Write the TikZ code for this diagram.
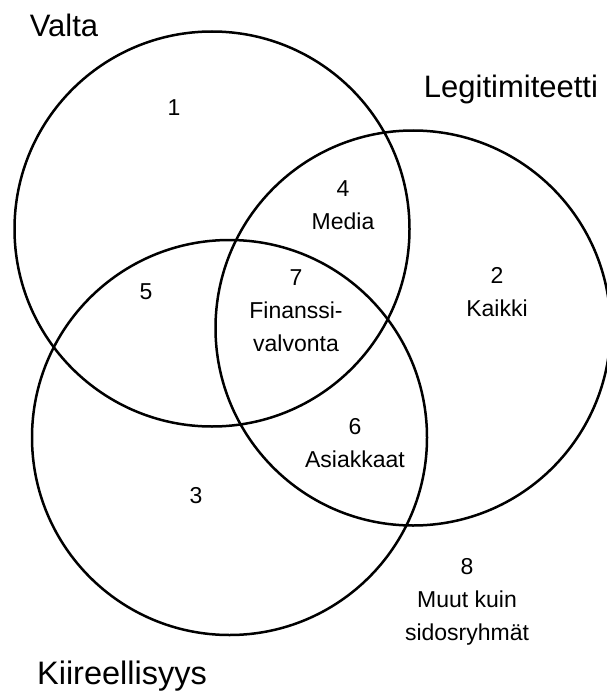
\documentclass[tikz,border=0pt]{standalone}
\usepackage{fontspec}
\setmainfont{Liberation Sans}
\begin{document}
\begin{tikzpicture}[x=1pt,y=-1pt,
  ring/.style={draw=black,line width=2.5pt,circle,minimum size=395pt,inner sep=0pt},
  big/.style={font=\fontsize{31}{36}\selectfont,inner sep=0pt},
  small/.style={font=\fontsize{23}{33}\selectfont,align=center,inner sep=0pt}]
\useasboundingbox (0,0) rectangle (606,698);
\node[ring] (valta) at (212,229) {};
\node[ring] (legit) at (413,328) {};
\node[ring] (kiire) at (229.5,437.5) {};
\node[big] (tvalta) at (64,25) {Valta};
\node[big] (tlegit) at (511,89) {Legitimiteetti};
\node[big,font=\fontsize{32.5}{36}\selectfont] (tkiire) at (122,676) {Kiireellisyys};
\node[small] (r1) at (174,108) {1};
\node[small] (r4) at (343,205) {4\\Media};
\node[small] (r7) at (296,310.5) {7\\Finanssi-\\valvonta};
\node[small] (r5) at (146,292) {5};
\node[small] (r2) at (497,292) {2\\Kaikki};
\node[small] (r6) at (355,443) {6\\Asiakkaat};
\node[small] (r3) at (196,495.5) {3};
\node[small] (r8) at (467,602) {8\\Muut kuin\\sidosryhmät};
\end{tikzpicture}
\end{document}
